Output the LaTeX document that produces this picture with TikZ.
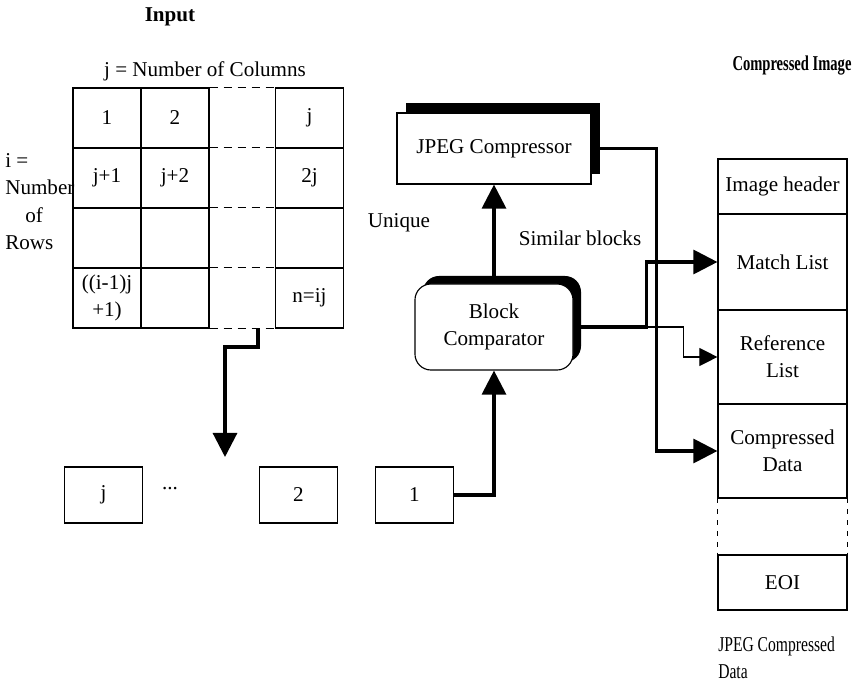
\documentclass[tikz,border=0pt]{standalone}
\usepackage{fontspec}
\setmainfont{Liberation Serif}
\usetikzlibrary{arrows.meta,shadows}

\begin{document}
\begin{tikzpicture}[
  x=0.025cm, y=-0.025cm,
  every node/.style={font=\fontsize{15}{19}\selectfont},
  cell/.style={rectangle, draw, line width=0.8pt, minimum width=1.7cm,
               minimum height=1.5cm, inner sep=2pt, align=center},
  blk/.style={rectangle, draw, line width=0.8pt, minimum width=1.95cm,
              minimum height=1.4cm},
  proc/.style={rectangle, draw, fill=white, line width=0.8pt,
               minimum width=4.85cm, minimum height=1.775cm,
               drop shadow={shadow xshift=0.225cm, shadow yshift=0.25cm,
                            fill=black, opacity=1}},
  cmp/.style={rectangle, draw, fill=white, line width=0.8pt,
              rounded corners=0.4cm, minimum width=3.95cm,
              minimum height=2.15cm, align=center,
              drop shadow={shadow xshift=0.2cm, shadow yshift=0.2cm,
                           fill=black, opacity=1}},
  seg/.style={rectangle, draw, line width=0.8pt, minimum width=3.225cm,
              align=center},
  ttl/.style={font=\fontsize{15}{19}\selectfont\bfseries},
  arr/.style={line width=2.2pt, -{Triangle[length=0.6cm, width=0.6cm]}},
  thinarr/.style={line width=0.8pt, -{Triangle[length=0.45cm, width=0.45cm]}},
  gap/.style={line width=0.8pt, dash pattern=on 0.2cm off 0.15cm}
]
\useasboundingbox (0,0) rectangle (858,690);

% input image as blocks
\node[ttl] (intitle) at (170,17) {Input};
\node (colslbl) at (205,71) {j = Number of Columns};
\node[align=left, anchor=north west, inner sep=0pt,
      font=\fontsize{15}{19.5}\selectfont] (rowslbl) at (5,153)
  {i =\\Number\\\hspace*{0.95em}of\\Rows};

\node[cell] (c11) at (107,118) {1};
\node[cell] (c12) at (175,118) {2};
\node[cell] (c14) at (309.5,118) {j};
\node[cell] (c21) at (107,178) {j+1};
\node[cell] (c22) at (175,178) {j+2};
\node[cell] (c24) at (309.5,178) {2j};
\node[cell] (c31) at (107,238) {};
\node[cell] (c32) at (175,238) {};
\node[cell] (c34) at (309.5,238) {};
\node[cell] (c41) at (107,298) {((i-1)j\\+1)};
\node[cell] (c42) at (175,298) {};
\node[cell] (c44) at (309.5,298) {n=ij};

\draw[gap] (c12.north east) -- (c14.north west);
\draw[gap] (c22.north east) -- (c24.north west);
\draw[gap] (c32.north east) -- (c34.north west);
\draw[gap] (c42.north east) -- (c44.north west);
\draw[gap] (c42.south east) -- (c44.south west);

% block queue
\node[blk] (bj) at (103.5,495) {j};
\node (bdots) at (170,489) {...};
\node[blk] (b2) at (298.5,495) {2};
\node[blk] (b1) at (414.5,495) {1};

\coordinate (gridout) at (258,328);
\coordinate (qin) at (225,457);
\draw[arr] (gridout) -- ++(0,19) -| (qin);

% comparator and compressor
\node[cmp] (bc) at (494,327) {Block\\Comparator};
\node[proc] (jpeg) at (494,148.5) {JPEG Compressor};
\node (uniq) at (399,223) {Unique};
\node (simlbl) at (580,238) {Similar blocks};

% compressed image layout
\node[ttl] (outtitle) at (792,66) {\scalebox{0.69}[1]{Compressed Image}};
\node[seg, minimum height=1.375cm] (hdr) at (782.5,186.5) {Image header};
\node[seg, minimum height=2.4cm] (match) at (782.5,262) {Match List};
\node[seg, minimum height=2.35cm] (ref) at (782.5,357) {Reference\\List};
\node[seg, minimum height=2.35cm] (cdata) at (782.5,451) {Compressed\\Data};
\node[seg, minimum height=1.375cm] (eoi) at (782.5,582.5) {EOI};
\draw[line width=0.8pt, dash pattern=on 0.12cm off 0.15cm]
  (cdata.south west) -- (eoi.north west);
\draw[line width=0.8pt, dash pattern=on 0.12cm off 0.15cm]
  (cdata.south east) -- (eoi.north east);
\node[align=left, anchor=north west, inner sep=0pt] (outlbl) at (718,637)
  {\scalebox{0.74}[1]{JPEG Compressed}\\\scalebox{0.74}[1]{Data}};

\draw[arr] (b1.east) -| (bc.south);
\draw[arr] (bc.north) -- (jpeg.south);
\draw[thinarr] (bc.east) -- ++(110,0) |- (ref.west);
\draw[arr] (bc.east) -- ++(73,0) |- (match.west);
\draw[arr] (jpeg.east) -- ++(65,0) |- (cdata.west);
\end{tikzpicture}
\end{document}
